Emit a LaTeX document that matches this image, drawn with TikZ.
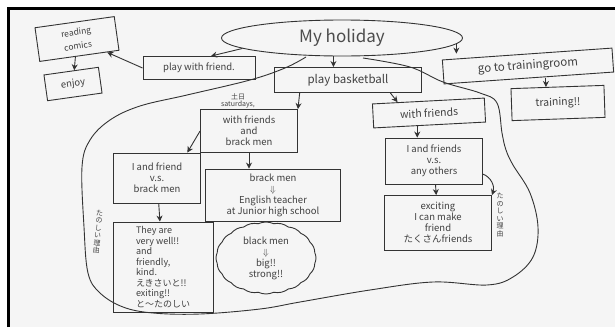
\documentclass[tikz,border=0pt]{standalone}
\usepackage{fontspec}
\setmainfont{Noto Sans CJK JP}
\usetikzlibrary{arrows.meta, shapes.geometric, shapes.symbols}

\begin{document}
\begin{tikzpicture}[x=1pt, y=1pt,
        pen/.style={draw=black!80, line width=0.9pt},
        box/.style={pen, rectangle, inner sep=1pt, align=center, text=black!75,
            font=\fontsize{9.5}{11}\selectfont},
        arr/.style={pen, -{Stealth[length=6pt, width=6pt]}},
        note/.style={text=black!75, font=\fontsize{7}{7.5}\selectfont, align=center, inner sep=0pt}]

            \useasboundingbox (0,0) rectangle (615,-327);
            \fill[white] (0,0) rectangle (615,-327);
            \fill[black!4] (8,-8) rectangle (615,-327);
            \draw[black, line width=3pt] (8,-327) -- (8,-8) -- (615,-8);

            \node[pen, ellipse, minimum width=241pt, minimum height=36pt, inner sep=0pt,
                text=black!70, font=\fontsize{17}{19}\selectfont] (hol) at (342,-38) {My holiday};

            \node[box, minimum width=80pt, minimum height=34pt, rotate=8,
                font=\fontsize{8.5}{14}\selectfont] (comics) at (77,-39) {reading\\comics};
            \node[box, minimum width=55pt, minimum height=26pt, rotate=8] (enjoy) at (73,-84) {enjoy};
            \node[box, minimum width=112pt, minimum height=23pt] (playwf) at (199,-68) {play with friend.};

            \node[box, minimum width=147pt, minimum height=25pt, font=\fontsize{11.5}{12}\selectfont] (playbb) at (348,-80) {play basketball};
            \node[box, minimum width=170pt, minimum height=24pt, rotate=4, font=\fontsize{11.5}{12}\selectfont] (gotr) at (528,-66) {go to trainingroom};
            \node[box, minimum width=93pt, minimum height=32pt, rotate=2, font=\fontsize{10.5}{12}\selectfont] (train) at (558,-103) {training!!};

            \node[box, minimum width=112pt, minimum height=24pt, rotate=3, font=\fontsize{10.5}{12}\selectfont] (wf) at (429,-113) {with friends};
            \node[box, minimum width=97pt, minimum height=46pt] (iafr) at (434,-161) {I and friends\\v.s.\\any others};
            \node[box, minimum width=107pt, minimum height=55pt] (exc) at (438,-223) {exciting\\I can make\\friend\\たくさんfriends};

            \node[note] (sat) at (238,-101) {土日\\saturdays,};
            \node[box, minimum width=97pt, minimum height=43pt] (wfbm) at (249,-131) {with friends\\and\\brack men};
            \node[box, minimum width=87pt, minimum height=50pt] (iafbm) at (157,-178) {I and friend\\v.s.\\brack men};
            \node[box, minimum width=135pt, minimum height=52pt] (bmet) at (273,-195) {brack men\\$\Downarrow$\\English teacher\\at Junior high school};
            \node[box, minimum width=100pt, minimum height=90pt, align=left,
                font=\fontsize{9}{10.5}\selectfont] (they) at (163,-267)
                {They are\\very well!!\\and\\friendly,\\kind.\\えきさいと!!\\exiting!!\\と〜たのしい};
            \node[box, cloud, cloud puffs=20, cloud puff arc=50, aspect=1.5, inner sep=0pt,
                minimum width=100pt, minimum height=72pt] (bmbs) at (266,-258) {black men\\$\Downarrow$\\big!!\\strong!!};

            \node[note, rotate=-5] (whyl) at (98,-232) {た\\の\\し\\い\\理\\由};
            \node[note] (whyr) at (500,-215) {た\\の\\し\\い\\理\\由};

            \draw[arr] (hol.186) -- (playwf.45);
            \draw[arr] (playwf.west) -- (comics);
            \draw[arr] (comics) -- (enjoy);
            \draw[arr] (hol.245) -- (hol.245 |- playbb.north);
            \draw[arr] (hol.-3) -- (hol.-3 |- gotr.north);
            \draw[arr] (train.125 |- gotr.south) -- (train.125);

            \draw[arr] (playbb.-17) -- (wf.158);
            \draw[arr] (wf.-135) -- (wf.-135 |- iafr.north);
            \draw[arr] (iafr) -- (exc);
            \draw[arr] (iafr.-15) to[out=-20, in=70] (exc.north east);

            \draw[arr] (playbb.-165) -- (wfbm.north east);
            \draw[arr] (wfbm.west) -- (iafbm.40);
            \draw[arr] (wfbm.south) -- (wfbm.south |- bmet.north);
            \draw[arr] (iafbm) -- (they);

            \draw[pen] plot[smooth, tension=0.6] coordinates {
                (306,-57) (285,-68) (250,-80) (187,-95) (140,-106) (110,-120) (90,-140)
                (82,-167) (84,-227) (88,-273) (100,-293) (123,-307) (153,-313) (200,-314)
                (260,-309) (300,-302) (370,-290) (433,-282) (487,-285) (513,-277)
                (533,-257) (538,-227) (530,-193) (513,-165) (506,-150) (502,-133)
                (497,-103) (480,-93) (443,-82) (410,-67) (363,-58)};
        \end{tikzpicture}
\end{document}
